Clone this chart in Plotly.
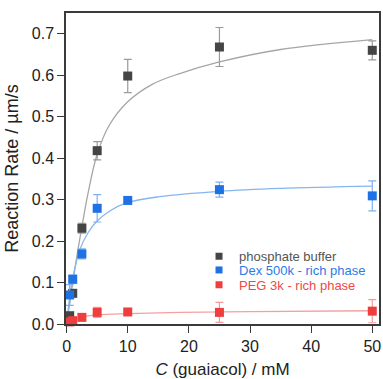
import plotly.graph_objects as go

# measured data
conc = [0.5, 1, 2.5, 5, 10, 25, 50]
buffer_rate = [0.020, 0.074, 0.231, 0.418, 0.598, 0.668, 0.660]
buffer_err = [0.005, 0.008, 0.012, 0.022, 0.040, 0.047, 0.023]
dex_rate = [0.070, 0.108, 0.169, 0.279, 0.298, 0.324, 0.309]
dex_err = [0.025, 0.010, 0.012, 0.033, 0.006, 0.018, 0.036]
peg_rate = [0.005, 0.008, 0.016, 0.028, 0.029, 0.028, 0.031]
peg_err = [0.004, 0.004, 0.005, 0.012, 0.008, 0.024, 0.028]

# fit curves
buffer_fit_x = [0, 1, 1.75, 2.5, 3.5, 5, 7, 10, 14, 18.5, 25, 35, 50]
buffer_fit_y = [0, 0.099, 0.170, 0.234, 0.315, 0.410, 0.480, 0.536, 0.578, 0.604, 0.632, 0.662, 0.686]
dex_fit_x = [0, 0.5, 1, 2.13, 3.5, 4.86, 7, 9.77, 15.2, 25, 35, 50]
dex_fit_y = [0, 0.065, 0.110, 0.178, 0.220, 0.2465, 0.272, 0.292, 0.307, 0.320, 0.327, 0.3325]
peg_fit_x = [0, 1, 2.5, 5, 10, 18.5, 30, 50]
peg_fit_y = [0, 0.010, 0.017, 0.022, 0.025, 0.028, 0.030, 0.032]

names = ["phosphate buffer", "Dex 500k - rich phase", "PEG 3k - rich phase"]
x_ticks = [0, 10, 20, 30, 40, 50]
y_ticks = [0.0, 0.1, 0.2, 0.3, 0.4, 0.5, 0.6, 0.7]

marker_cols = ["#454545", "#1f72e4", "#ee3e3e"]
err_cols = ["#9a9a9a", "#7fb0f0", "#f39a9a"]
line_cols = ["#a6a6a6", "#86b6f0", "#f4a0a0"]
text_cols = ["#555555", "#2a7be6", "#ef4848"]

FONT = "Liberation Sans, Arial, sans-serif"

fig = go.Figure()
fits = [(buffer_fit_x, buffer_fit_y), (dex_fit_x, dex_fit_y), (peg_fit_x, peg_fit_y)]
for (fx, fy), lc in zip(fits, line_cols):
    fig.add_trace(go.Scatter(x=fx, y=fy, mode="lines", line=dict(color=lc, width=1.3, shape="spline", smoothing=1.0),
                             showlegend=False, hoverinfo="skip", cliponaxis=False))

series = [(buffer_rate, buffer_err), (dex_rate, dex_err), (peg_rate, peg_err)]
for (r, e), mc, ec in zip(series, marker_cols, err_cols):
    fig.add_trace(go.Scatter(x=conc, y=r, mode="markers",
                             marker=dict(symbol="square", size=9, color=mc),
                             error_y=dict(type="data", array=e, visible=True, color=ec, thickness=1.2, width=4),
                             showlegend=False, cliponaxis=False))

legend_ids = ["legend", "legend2", "legend3"]
for n, mc, lid in zip(names, marker_cols, legend_ids):
    fig.add_trace(go.Scatter(x=[None], y=[None], mode="markers", name=n, legend=lid,
                             marker=dict(symbol="square", size=7, color=mc)))

axis_common = dict(showline=True, linecolor="#3a3a3a", linewidth=1.5, mirror=True, ticks="outside",
                   ticklen=7, tickwidth=1.3, tickcolor="#3a3a3a", showgrid=False, zeroline=False,
                   automargin=False,
                   tickfont=dict(family=FONT, size=16, color="#222222"))

legend_rows = [0.2180, 0.1736, 0.1262]
legends = {}
for lid, yy, tc in zip(legend_ids, legend_rows, text_cols):
    legends[lid] = dict(x=0.425, y=yy, xanchor="left", yanchor="middle", bgcolor="rgba(0,0,0,0)",
                        font=dict(family=FONT, size=13, color=tc), itemwidth=30)

fig.update_layout(
    width=383, height=379,
    margin=dict(l=66, r=4, t=13, b=55),
    paper_bgcolor="white", plot_bgcolor="white",
    xaxis=dict(range=[-0.1, 51.1], tickvals=x_ticks, ticktext=[str(v) for v in x_ticks],
               title=dict(text="<i>C</i> (guaiacol) / mM", standoff=13,
                          font=dict(family=FONT, size=17, color="#222222")),
               **axis_common),
    yaxis=dict(range=[0, 0.75], tickvals=y_ticks, ticktext=[f"{v:.1f}" for v in y_ticks],
               title=dict(text="Reaction Rate / µm/s", standoff=8,
                          font=dict(family=FONT, size=18, color="#222222")),
               **axis_common),
    showlegend=True,
    **legends,
)

fig.write_html("out.html", config={"displayModeBar": False},
               post_script="document.body.style.margin='0';document.body.style.padding='0';")
